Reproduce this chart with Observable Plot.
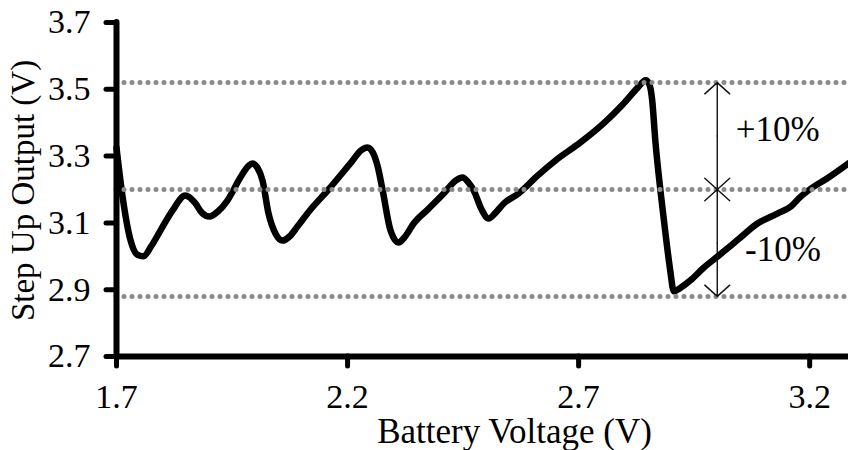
<!DOCTYPE html>
<html>
<head>
<meta charset="utf-8">
<script src="https://cdn.jsdelivr.net/npm/d3@7"></script>
<script src="https://cdn.jsdelivr.net/npm/@observablehq/plot@0.6"></script>
<style>
  html, body { margin: 0; padding: 0; background: white; }
</style>
</head>
<body>
<div id="chart"></div>
<script>
// Battery voltage (V) sampled along the curve
const batteryV = [1.700, 1.713, 1.730, 1.745, 1.758, 1.775, 1.795, 1.821, 1.849, 1.870, 1.885, 1.901, 1.920, 1.940, 1.968, 1.985, 1.994, 2.005, 2.016, 2.029, 2.044, 2.059, 2.075, 2.092, 2.120, 2.157, 2.206, 2.230, 2.243, 2.255, 2.265, 2.276, 2.293, 2.310, 2.325, 2.343, 2.375, 2.408, 2.435, 2.449, 2.462, 2.473, 2.490, 2.505, 2.520, 2.538, 2.570, 2.610, 2.650, 2.704, 2.754, 2.797, 2.828, 2.845, 2.853, 2.859, 2.866, 2.877, 2.888, 2.898, 2.906, 2.920, 2.942, 2.970, 3.003, 3.045, 3.087, 3.130, 3.160, 3.180, 3.200, 3.240, 3.284];
// Step-up output (V)
const outputV = [3.325, 3.180, 3.050, 3.005, 3.000, 3.030, 3.077, 3.137, 3.182, 3.160, 3.130, 3.119, 3.135, 3.167, 3.236, 3.270, 3.278, 3.265, 3.227, 3.128, 3.068, 3.047, 3.060, 3.090, 3.140, 3.197, 3.278, 3.318, 3.326, 3.310, 3.270, 3.197, 3.077, 3.041, 3.060, 3.098, 3.142, 3.188, 3.228, 3.236, 3.220, 3.197, 3.140, 3.113, 3.130, 3.158, 3.188, 3.240, 3.287, 3.341, 3.398, 3.457, 3.505, 3.527, 3.515, 3.470, 3.346, 3.197, 3.068, 2.960, 2.895, 2.905, 2.928, 2.965, 3.002, 3.050, 3.098, 3.128, 3.150, 3.178, 3.200, 3.235, 3.278];

const xTicks = [1.7, 2.2, 2.7, 3.2];
const yTicks = [2.7, 2.9, 3.1, 3.3, 3.5, 3.7];
const xDomain = [1.7, 3.284];
const yDomain = [2.7, 3.7];

// Reference levels: nominal 3.2 V and ±10%
const nominal = 3.2;
const bandLevels = [nominal * 0.9, nominal, nominal * 1.1];

// Double-headed arrows (drawn as pairs of single arrows from the midpoint)
const arrowX = 3.0;
const arrowFrom = [3.36, 3.36, 3.04, 3.04];
const arrowTo = [3.52, 3.2, 2.88, 3.2];

// Annotation labels
const annLabels = ["+10%", "-10%"];
const annX = [3.04, 3.06];
const annY = [3.38, 3.02];

const xTitle = "Battery Voltage (V)";
const yTitle = "Step Up Output (V)";

const data = batteryV.map((x, i) => ({x, y: outputV[i]}));
const arrows = arrowFrom.map((y1, i) => ({x: arrowX, y1, y2: arrowTo[i]}));
const anns = annLabels.map((t, i) => ({t, x: annX[i], y: annY[i]}));

const chart = Plot.plot({
  width: 848,
  height: 450,
  marginLeft: 116,
  marginRight: 0,
  marginTop: 22,
  marginBottom: 94,
  style: {fontFamily: "'Liberation Serif', 'Times New Roman', serif", fontSize: "34px", background: "white", color: "black", overflow: "visible"},
  x: {domain: xDomain},
  y: {domain: yDomain},
  marks: [
    Plot.line(data, {x: "x", y: "y", curve: "monotone-x", stroke: "black", strokeWidth: 6.5, strokeLinejoin: "round", strokeLinecap: "round"}),
    Plot.ruleY(bandLevels, {stroke: "#8a8a8a", strokeWidth: 5, strokeDasharray: "0,8", strokeLinecap: "round"}),
    Plot.arrow(arrows, {x: "x", y1: "y1", y2: "y2", stroke: "#111", strokeWidth: 1.4, headLength: 18, headAngle: 96}),
    Plot.text(anns, {x: "x", y: "y", text: "t", textAnchor: "start", fontSize: 35, fill: "black"}),
    Plot.ruleX([xDomain[0]], {y1: yDomain[0], y2: yDomain[1], stroke: "black", strokeWidth: 6, strokeLinecap: "round"}),
    Plot.ruleY([yDomain[0]], {stroke: "black", strokeWidth: 6, strokeLinecap: "round"}),
    Plot.axisY({ticks: yTicks, tickFormat: d => d.toFixed(1), tickSize: 10, tickPadding: 16, strokeWidth: 5, strokeLinecap: "round", label: null, fontSize: 34}),
    Plot.axisX({ticks: xTicks, tickFormat: d => d.toFixed(1), tickSize: 10, tickPadding: 17, strokeWidth: 5, strokeLinecap: "round", label: null, fontSize: 34}),
    Plot.text([xTitle], {text: d => d, frameAnchor: "bottom", textAnchor: "middle", dx: 32, dy: 86, fontSize: 35}),
    Plot.text([yTitle], {text: d => d, frameAnchor: "left", textAnchor: "middle", rotate: -90, dx: -93, dy: 1, fontSize: 33})
  ]
});
document.getElementById("chart").appendChild(chart);
</script>
</body>
</html>
